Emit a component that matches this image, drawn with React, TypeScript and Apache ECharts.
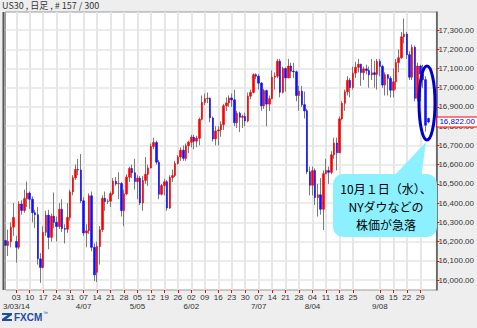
import React, { useEffect, useRef } from 'react';
import * as echarts from 'echarts';

// ---- data (FXCM US30 daily candles, 2014-02-25 .. 2014-10-02) ----
const opens = [
  16205, 16180, 16200, 16275, 16200, 16170, 16395, 16362, 16423, 16452,
  16420, 16350, 16340, 16110, 16065, 16248, 16337, 16222, 16332, 16300,
  16278, 16368, 16268, 16264, 16325, 16458, 16532, 16575, 16572, 16412,
  16245, 16256, 16438, 16170, 16040, 16174, 16262, 16425, 16408, 16410,
  16449, 16514, 16501, 16502, 16361, 16448, 16535, 16580, 16558, 16512,
  16530, 16401, 16518, 16550, 16583, 16695, 16715, 16613, 16446, 16491,
  16511, 16374, 16533, 16543, 16606, 16640, 16675, 16633, 16698, 16717,
  16743, 16722, 16737, 16836, 16924, 16943, 16945, 16843, 16734, 16775,
  16781, 16808, 16906, 16921, 16947, 16937, 16818, 16867, 16846, 16851,
  16827, 16956, 16976, 17068, 17060, 17024, 16906, 16985, 16915, 16943,
  17055, 17060, 17138, 16976, 17100, 17051, 17113, 17086, 17083, 16960,
  16982, 16912, 16880, 16563, 16493, 16569, 16429, 16443, 16368, 16553,
  16569, 16560, 16651, 16713, 16662, 16838, 16919, 16979, 17039, 17001,
  17076, 17106, 17122, 17079, 17098, 17090, 17067, 17078, 17069, 17137,
  17111, 17014, 17068, 17049, 16987, 17031, 17131, 17156, 17265, 17279,
  17172, 17055, 17210, 16945, 17113, 17071, 17042, 16840,
];
const closes = [
  16180, 16200, 16275, 16325, 16170, 16395, 16362, 16423, 16452, 16420,
  16350, 16340, 16110, 16065, 16248, 16337, 16222, 16332, 16300, 16278,
  16368, 16268, 16264, 16325, 16458, 16532, 16575, 16572, 16412, 16245,
  16256, 16438, 16170, 16027, 16174, 16262, 16425, 16408, 16410, 16449,
  16514, 16501, 16502, 16361, 16448, 16535, 16580, 16558, 16512, 16530,
  16401, 16518, 16550, 16583, 16695, 16715, 16613, 16446, 16491, 16511,
  16374, 16533, 16543, 16606, 16640, 16675, 16633, 16698, 16717, 16743,
  16722, 16737, 16836, 16924, 16943, 16945, 16843, 16734, 16775, 16781,
  16808, 16906, 16921, 16947, 16937, 16818, 16867, 16846, 16851, 16827,
  16956, 16976, 17068, 17060, 17024, 16906, 16985, 16915, 16943, 17055,
  17060, 17138, 16976, 17100, 17051, 17113, 17086, 17083, 16960, 16982,
  16912, 16880, 16563, 16493, 16569, 16429, 16443, 16368, 16553, 16569,
  16560, 16651, 16713, 16662, 16838, 16919, 16979, 17039, 17001, 17076,
  17106, 17122, 17079, 17098, 17090, 17067, 17078, 17069, 17137, 17111,
  17014, 17068, 17049, 16987, 17031, 17131, 17156, 17265, 17279, 17172,
  17055, 17210, 16945, 17113, 17071, 17042, 16805, 16822,
];
const lows = [
  16140, 16125, 16170, 16230, 16090, 16160, 16340, 16350, 16380, 16370,
  16300, 16270, 16080, 15985, 16060, 16230, 16160, 16200, 16270, 16200,
  16265, 16250, 16190, 16245, 16310, 16440, 16520, 16545, 16400, 16230,
  16170, 16240, 16150, 15995, 15990, 16080, 16250, 16360, 16395, 16380,
  16440, 16490, 16420, 16330, 16280, 16440, 16510, 16530, 16470, 16420,
  16390, 16360, 16500, 16490, 16580, 16680, 16600, 16420, 16440, 16440,
  16360, 16370, 16510, 16535, 16600, 16620, 16620, 16620, 16660, 16690,
  16680, 16690, 16700, 16830, 16910, 16920, 16820, 16720, 16700, 16700,
  16745, 16780, 16880, 16900, 16900, 16800, 16790, 16770, 16790, 16800,
  16820, 16940, 16970, 17045, 16990, 16880, 16890, 16800, 16880, 16940,
  16990, 17050, 16950, 16970, 16980, 17050, 17050, 17050, 16930, 16880,
  16900, 16840, 16550, 16440, 16440, 16390, 16330, 16340, 16260, 16550,
  16500, 16550, 16630, 16570, 16660, 16830, 16880, 16960, 16950, 16990,
  17050, 17080, 17010, 17040, 17070, 17000, 17040, 17000, 16990, 17060,
  17000, 16960, 16960, 16950, 16950, 16990, 17080, 17150, 17230, 17150,
  17040, 17040, 16930, 16930, 16930, 17000, 16772, 16815,
];
const highs = [
  16260, 16262, 16300, 16400, 16230, 16410, 16415, 16470, 16512, 16460,
  16435, 16365, 16380, 16140, 16280, 16360, 16365, 16345, 16455, 16330,
  16400, 16420, 16290, 16400, 16470, 16545, 16600, 16630, 16655, 16430,
  16290, 16450, 16460, 16190, 16200, 16280, 16440, 16460, 16420, 16460,
  16530, 16535, 16560, 16510, 16470, 16550, 16590, 16600, 16630, 16545,
  16540, 16540, 16640, 16600, 16710, 16740, 16725, 16625, 16500, 16525,
  16520, 16545, 16575, 16620, 16650, 16690, 16700, 16710, 16725, 16755,
  16755, 16750, 16845, 16960, 16970, 16975, 16950, 16850, 16800, 16800,
  16825, 16915, 16950, 16960, 16970, 16990, 16880, 16875, 16860, 16870,
  16975, 16990, 17075, 17075, 17070, 17030, 16995, 16990, 16960, 17090,
  17080, 17150, 17150, 17110, 17105, 17150, 17130, 17130, 17090, 17010,
  17010, 16980, 16890, 16590, 16590, 16580, 16500, 16530, 16570, 16630,
  16590, 16670, 16740, 16740, 16850, 16930, 16990, 17060, 17050, 17110,
  17135, 17150, 17125, 17110, 17120, 17110, 17150, 17140, 17150, 17150,
  17120, 17080, 17070, 17060, 17100, 17150, 17200, 17290, 17360, 17290,
  17190, 17225, 17220, 17130, 17120, 17120, 17060, 16845,
];

const firstDate = '2014-02-25';
const slotCount = 161; // candles + empty slots on the right
const currentPrice = 16822;

const tickDates = [
  '2014-03-03', '2014-03-10', '2014-03-17', '2014-03-24', '2014-03-31',
  '2014-04-07', '2014-04-14', '2014-04-21', '2014-04-28', '2014-05-05',
  '2014-05-12', '2014-05-19', '2014-05-26', '2014-06-02', '2014-06-09',
  '2014-06-16', '2014-06-23', '2014-06-30', '2014-07-07', '2014-07-14',
  '2014-07-21', '2014-07-28', '2014-08-04', '2014-08-11', '2014-08-18',
  '2014-08-25', '2014-09-08', '2014-09-15', '2014-09-22', '2014-09-29',
];
const monthLabels: Record<string, string> = {
  '2014-03-03': '3/03/14',
  '2014-04-07': '4/07',
  '2014-05-05': '5/05',
  '2014-06-02': '6/02',
  '2014-07-07': '7/07',
  '2014-08-04': '8/04',
  '2014-09-08': '9/08',
};
const yTicks = [
  16000, 16100, 16200, 16300, 16400, 16500, 16600,
  16700, 16800, 16900, 17000, 17100, 17200, 17300,
];

const titleText = 'US30 , 日足 , # 157 / 300';
const calloutLines = ['10月１日（水）、', 'NYダウなどの', '株価が急落'];

function buildDates(): string[] {
  const out: string[] = [];
  const [y, m, d] = firstDate.split('-').map(Number);
  const dt = new Date(Date.UTC(y, m - 1, d));
  while (out.length < slotCount) {
    const wd = dt.getUTCDay();
    if (wd !== 0 && wd !== 6) out.push(dt.toISOString().slice(0, 10));
    dt.setUTCDate(dt.getUTCDate() + 1);
  }
  return out;
}

const RED = '#ff0000';
const BLUE = '#1010ff';
const WICK = '#7a7a7a';
const CYAN = '#8cf0ff';
const LATIN = '"Liberation Sans", Arial, sans-serif';
const CJK = '"Noto Sans CJK JP", "Liberation Sans", sans-serif';

export default function App() {
  const ref = useRef<HTMLDivElement>(null);

  useEffect(() => {
    document.body.style.margin = '0';
    if (!ref.current) return;
    const chart = echarts.init(ref.current, undefined, { renderer: 'svg' });
    const dates = buildDates();
    const tickSet = new Set(tickDates);
    const isTick = (_i: number, v: string) => tickSet.has(v);
    const isMonth = (_i: number, v: string) => !!monthLabels[v];

    const wickData = opens.map((o, i) => [o, closes[i], lows[i], highs[i]]);
    const bodyData = opens.map((o, i) => [
      o,
      closes[i],
      Math.min(o, closes[i]),
      Math.max(o, closes[i]),
    ]);

    chart.setOption({
      animation: false,
      backgroundColor: '#eeeeee',
      grid: {
        left: 3,
        right: 38,
        top: 12,
        bottom: 38,
        show: true,
        backgroundColor: '#ffffff',
        borderColor: '#9a9a9a',
        borderWidth: 1,
      },
      xAxis: [
        {
          type: 'category',
          data: dates,
          boundaryGap: false,
          axisLine: { show: false },
          axisTick: {
            show: true,
            interval: isTick,
            length: 3,
            lineStyle: { color: RED, width: 1 },
          },
          axisLabel: {
            interval: isTick,
            hideOverlap: false,
            formatter: (v: string) => v.slice(8, 10),
            fontSize: 8,
            color: '#333333',
            fontFamily: LATIN,
            margin: 3,
          },
          splitLine: {
            show: true,
            interval: isTick,
            lineStyle: { color: '#e6e6e6', width: 2 },
          },
        },
        {
          type: 'category',
          data: dates,
          boundaryGap: false,
          position: 'bottom',
          offset: 9,
          axisLine: { show: false },
          axisTick: { show: false },
          splitLine: { show: false },
          axisLabel: {
            interval: isMonth,
            hideOverlap: false,
            formatter: (v: string) => monthLabels[v] || '',
            fontSize: 8,
            color: '#333333',
            fontFamily: LATIN,
            margin: 3,
          },
        },
      ],
      yAxis: {
        type: 'value',
        position: 'right',
        min: 15948,
        max: 17394,
        axisLine: { show: true, lineStyle: { color: '#555555', width: 1.5 } },
        axisTick: {
          show: true,
          customValues: yTicks,
          length: 3,
          lineStyle: { color: RED, width: 1 },
        },
        axisLabel: {
          customValues: yTicks,
          hideOverlap: false,
          formatter: (v: number) =>
            v.toLocaleString('en-US', { minimumFractionDigits: 2, maximumFractionDigits: 2 }),
          fontSize: 8,
          color: '#333333',
          fontFamily: LATIN,
          margin: 2,
        },
        splitLine: { show: true, lineStyle: { color: '#e6e6e6', width: 1.5 } },
      },
      series: [
        {
          name: 'wick',
          type: 'candlestick',
          data: wickData,
          barWidth: 1,
          z: 2,
          itemStyle: {
            color: WICK,
            color0: WICK,
            borderColor: WICK,
            borderColor0: WICK,
            borderColorDoji: WICK,
            borderWidth: 1,
          },
        },
        {
          name: 'body',
          type: 'candlestick',
          data: bodyData,
          barWidth: 2,
          z: 3,
          itemStyle: {
            color: RED,
            color0: BLUE,
            borderColor: RED,
            borderColor0: BLUE,
            borderColorDoji: RED,
            borderWidth: 0.6,
          },
          markLine: {
            silent: true,
            symbol: 'none',
            animation: false,
            lineStyle: { color: 'transparent', width: 0 },
            data: [{ yAxis: currentPrice }],
            label: {
              show: true,
              position: 'end',
              distance: 1,
              formatter: () =>
                currentPrice.toLocaleString('en-US', { minimumFractionDigits: 2 }),
              color: '#0000ff',
              backgroundColor: '#ffffff',
              borderColor: '#ff0000',
              borderWidth: 1,
              padding: [1, 2, 0, 2],
              fontSize: 8,
              fontFamily: LATIN,
            },
          },
        },
      ],
      graphic: [
        {
          type: 'text',
          left: 2,
          top: 1,
          style: { text: titleText, fontSize: 9, fill: '#333333', fontFamily: CJK },
        },
        {
          type: 'line',
          shape: { x1: 3.5, y1: 12, x2: 3.5, y2: 290 },
          style: { stroke: '#555555', lineWidth: 2 },
          z: 50,
        },
        {
          type: 'polygon',
          shape: { points: [[392, 178], [421, 178], [426, 142]] },
          style: { fill: CYAN },
          z: 100,
        },
        {
          type: 'rect',
          shape: { x: 333, y: 174, width: 104, height: 63, r: 10 },
          style: { fill: CYAN },
          z: 100,
        },
        ...calloutLines.map((t, i) => ({
          type: 'text',
          x: 386,
          y: 188 + i * 18,
          z: 101,
          style: {
            text: t,
            fontSize: 12,
            fill: '#000000',
            align: 'center',
            verticalAlign: 'middle',
            fontFamily: CJK,
          },
        })),
        {
          type: 'ellipse',
          shape: { cx: 427, cy: 103, rx: 8, ry: 37 },
          style: { fill: 'none', stroke: '#0000c8', lineWidth: 3 },
          z: 102,
        },
        {
          type: 'polygon',
          shape: {
            points: [[2, 313], [12, 313], [12, 315], [6.5, 319], [12, 319], [12, 321], [2, 321], [2, 319], [7.5, 315], [2, 315]],
          },
          style: { fill: '#1f4fa3' },
        },
        {
          type: 'text',
          x: 14,
          y: 317,
          style: {
            text: 'FXCM',
            fontSize: 10,
            fontWeight: 'bold',
            fill: '#1f4fa3',
            verticalAlign: 'middle',
            fontFamily: LATIN,
          },
        },
        {
          type: 'text',
          x: 43,
          y: 310,
          style: { text: '™', fontSize: 5, fill: '#1f4fa3', fontFamily: LATIN },
        },
      ],
    });

    return () => chart.dispose();
  }, []);

  return (
    <div
      ref={ref}
      style={{ position: 'absolute', left: 0, top: 0, width: 477, height: 328 }}
    />
  );
}
